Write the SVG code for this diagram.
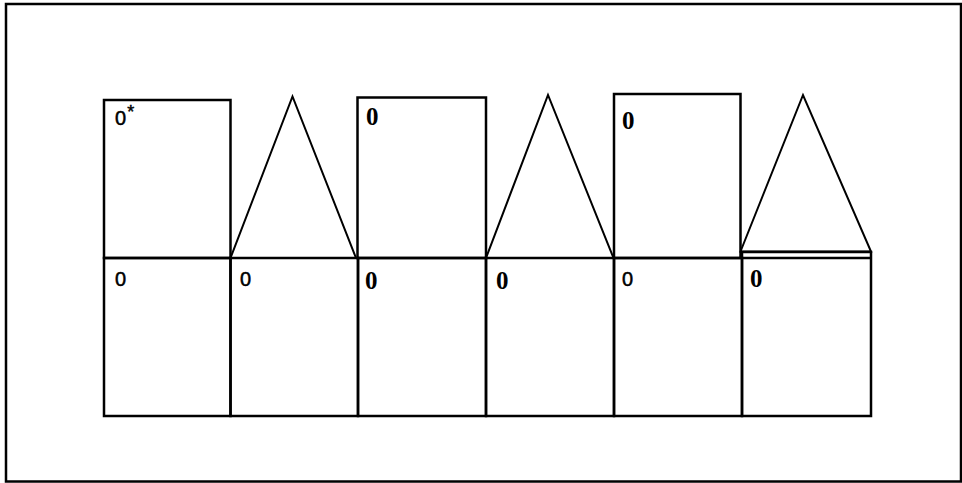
<svg xmlns="http://www.w3.org/2000/svg" width="962" height="483" viewBox="0 0 962 483">
<style>
.ln{fill:none;stroke:#000;stroke-width:2.5;stroke-linejoin:miter}
.tri{fill:none;stroke:#000;stroke-width:2;stroke-linejoin:miter}
.b{font-family:"Liberation Serif","Times New Roman",serif;font-weight:bold;font-size:25px;fill:#000}
.h{font-family:"Liberation Sans",Arial,sans-serif;font-size:20px;fill:#000;stroke:#000;stroke-width:0.5}
</style>
<rect x="0" y="0" width="962" height="483" fill="#fff"/>
<rect id="frame" class="ln" x="6" y="4" width="955" height="477.5"/>
<g id="top-row">
  <g id="cell-top-1"><rect class="ln" x="104" y="100" width="126.5" height="158"/><text class="h" x="115" y="125">0<tspan dx="1" dy="-7" font-size="18">*</tspan></text></g>
  <g id="tri-1"><polyline class="tri" points="230.5,258 292.5,96.5 356,258"/></g>
  <g id="cell-top-3"><rect class="ln" x="357.5" y="97.5" width="128.5" height="160.5"/><text class="b" x="366" y="125">0</text></g>
  <g id="tri-2"><polyline class="tri" points="486,258 548,95 613.5,258"/></g>
  <g id="cell-top-5"><rect class="ln" x="614" y="94" width="126.5" height="164"/><text class="b" x="622" y="129">0</text></g>
  <g id="tri-3"><polygon class="tri" points="740.5,251.5 803,95 871,251.5"/></g>
</g>
<g id="bottom-row">
  <g id="cell-bot-1"><rect class="ln" x="104" y="258" width="126.5" height="158"/><text class="h" x="115" y="286">0</text></g>
  <g id="cell-bot-2"><rect class="ln" x="230.5" y="258" width="127.5" height="158"/><text class="h" x="240" y="286">0</text></g>
  <g id="cell-bot-3"><rect class="ln" x="358" y="258" width="128" height="158"/><text class="b" x="365" y="289">0</text></g>
  <g id="cell-bot-4"><rect class="ln" x="486" y="258" width="128" height="158"/><text class="b" x="496" y="289">0</text></g>
  <g id="cell-bot-5"><rect class="ln" x="614" y="258" width="128" height="158"/><text class="h" x="622" y="286">0</text></g>
  <g id="cell-bot-6"><rect class="ln" x="742" y="252" width="129" height="164"/><line class="ln" x1="742" y1="258" x2="871" y2="258"/><text class="b" x="750" y="287">0</text></g>
</g>
</svg>
